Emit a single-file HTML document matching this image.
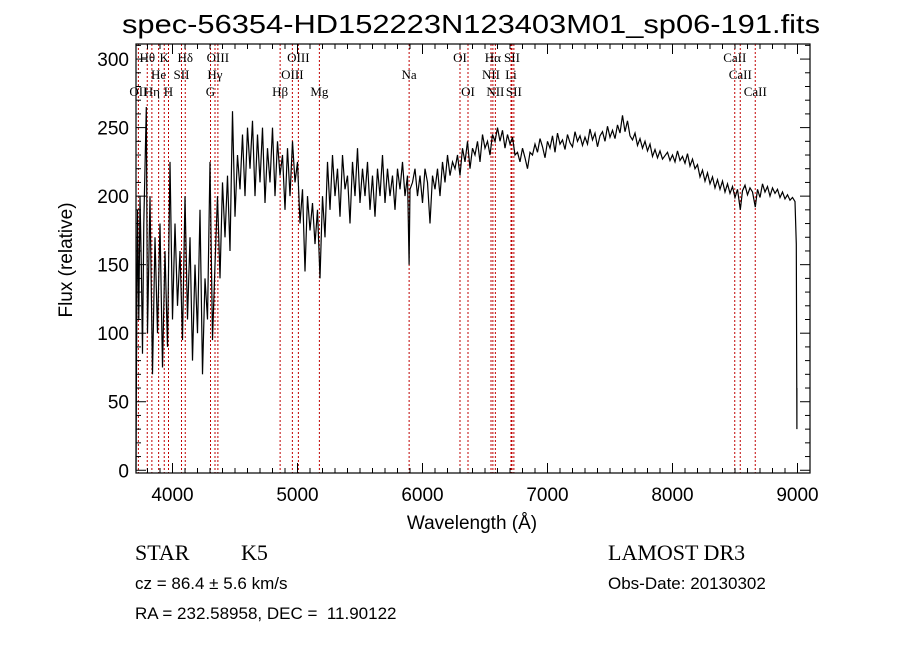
<!DOCTYPE html>
<html><head><meta charset="utf-8"><style>
html,body{margin:0;padding:0;background:#fff;}
svg{display:block;}
text{font-family:"Liberation Serif",serif;fill:#000;}
.sans{font-family:"Liberation Sans",sans-serif;}
</style></head><body>
<svg id="chart" width="900" height="649" viewBox="0 0 900 649" xmlns="http://www.w3.org/2000/svg">
<rect x="0" y="0" width="900" height="649" fill="#fff"/>
<text x="471" y="33" font-size="26" text-anchor="middle" textLength="698" lengthAdjust="spacingAndGlyphs" class="sans">spec-56354-HD152223N123403M01_sp06-191.fits</text>
<g id="lines"></g>
<g id="linelabels"></g>
<path id="spec" fill="none" stroke="#000" stroke-width="1.2" stroke-linejoin="miter"/>
<rect x="136" y="44" width="674" height="429" fill="none" stroke="#000" stroke-width="1.2"/>
<g id="ticks"></g>
<g id="xlabels"></g>
<g id="ylabels"></g>
<text x="472" y="529" font-size="19" text-anchor="middle" class="sans">Wavelength (Å)</text>
<text transform="translate(72,260) rotate(-90)" font-size="19" text-anchor="middle" class="sans">Flux (relative)</text>
<text x="135" y="560" font-size="22">STAR</text>
<text x="241" y="560" font-size="22">K5</text>
<text x="608" y="560" font-size="22">LAMOST DR3</text>
<text x="135" y="589" font-size="17" class="sans">cz = 86.4 ± 5.6 km/s</text>
<text x="608" y="589" font-size="17" class="sans">Obs-Date: 20130302</text>
<text x="135" y="619" font-size="17" class="sans" xml:space="preserve">RA = 232.58958, DEC =  11.90122</text>
</svg>
<script>
const wave=[3708,3712,3720,3730,3740,3750,3760,3770,3790,3800,3820,3840,3860,3880,3900,3920,3940,3960,3980,4000,4020,4040,4060,4080,4100,4120,4140,4160,4180,4200,4220,4240,4260,4280,4300,4320,4340,4360,4380,4400,4420,4440,4460,4480,4500,4520,4540,4560,4580,4600,4620,4640,4660,4680,4700,4720,4740,4760,4780,4800,4820,4840,4860,4880,4900,4920,4940,4960,4980,5000,5020,5040,5060,5080,5100,5120,5140,5160,5180,5200,5220,5240,5260,5280,5300,5320,5340,5360,5380,5400,5420,5440,5460,5480,5500,5520,5540,5560,5580,5600,5620,5640,5660,5680,5700,5720,5740,5760,5780,5800,5820,5840,5860,5880,5893,5900,5920,5940,5960,5980,6000,6020,6040,6060,6080,6100,6120,6140,6160,6180,6200,6220,6240,6260,6280,6300,6320,6340,6360,6380,6400,6420,6440,6460,6480,6500,6520,6540,6560,6580,6600,6620,6640,6660,6680,6700,6720,6740,6760,6780,6800,6820,6840,6860,6880,
6900,6920,6940,6960,6980,7000,7020,7040,7060,7080,7100,7120,7140,7160,7180,7200,7220,7240,7260,7280,7300,7320,7340,7360,7380,7400,7420,7440,7460,7480,7500,7520,7540,7560,7580,7600,7620,7640,7660,7680,7700,7720,7740,7760,7780,7800,7820,7840,7860,7880,7900,7920,7960,7980,8000,8020,8040,8060,8080,8100,8120,8140,8160,8180,8200,8220,8240,8260,8280,8300,8320,8340,8360,8380,8400,8420,8440,8460,8480,8500,8520,8542,8560,8580,8600,8620,8640,8662,8680,8700,8720,8740,8760,8780,8800,8820,8840,8860,8880,8900,8920,8940,8960,8980,8990,8995];
const flux=[0,80,190,110,200,150,85,180,265,100,200,70,170,100,180,75,160,90,225,110,180,120,160,95,200,110,170,80,150,100,190,70,140,110,225,95,150,200,140,210,170,215,160,262,185,230,205,245,200,250,220,255,200,245,210,250,195,235,210,250,200,240,215,230,190,235,200,240,210,225,180,205,145,200,175,195,165,190,140,200,170,225,190,230,200,220,185,230,205,215,180,225,200,235,195,220,200,225,190,215,185,220,200,230,195,220,200,215,190,220,205,225,200,215,150,205,210,220,200,215,195,220,210,180,215,205,220,200,225,210,230,215,225,220,230,215,235,225,240,220,235,230,240,225,245,235,240,230,245,240,250,240,248,235,245,238,243,230,232,225,235,228,220,232,230,
238,232,242,236,228,240,235,244,232,246,238,241,234,245,239,236,247,240,244,237,243,238,249,241,246,236,244,247,240,251,243,248,242,252,246,259,247,255,244,241,246,237,242,235,240,233,238,229,234,228,233,227,232,226,230,225,233,226,229,224,231,222,227,220,223,214,219,211,217,209,214,206,212,205,211,203,209,202,207,199,205,190,204,208,201,206,203,192,205,199,209,203,207,200,206,202,205,199,203,198,201,197,199,196,165,30];
const lineWaves=[3727,3798,3835,3889,3934,3968,4072,4102,4304,4340,4363,4861,4959,5007,5175,5893,6300,6364,6548,6563,6583,6708,6716,6731,8498,8542,8662];
const labelTexts=["OII","Hθ","Hη","He","K","H","SII","Hδ","G","Hγ","OIII","Hβ","OIII","OIII","Mg","Na","OI","OI","NII","Hα","NII","Li","SII","SII","CaII","CaII","CaII"];
const labelRows=[2,0,2,1,0,2,1,0,2,1,0,2,1,0,2,1,0,2,1,0,2,1,0,2,0,1,2];
const xTickVals=[4000,5000,6000,7000,8000,9000];
const yTickVals=[0,50,100,150,200,250,300];

const X0=136,X1=810,Y0=44,Y1=473;
const xMin=3708,xMax=9100,yMin=-2,yMax=311;
function xs(v){return X0+(v-xMin)/(xMax-xMin)*(X1-X0);}
function ys(v){return Y1-(v-yMin)/(yMax-yMin)*(Y1-Y0);}
const NS="http://www.w3.org/2000/svg";
function mk(tag,attrs,parent){const e=document.createElementNS(NS,tag);for(const k in attrs)e.setAttribute(k,attrs[k]);parent.appendChild(e);return e;}

let d="";
for(let i=0;i<wave.length;i++){d+=(i?"L":"M")+xs(wave[i]).toFixed(1)+" "+ys(Math.max(yMin,flux[i])).toFixed(1);}
d+="L"+xs(8995).toFixed(1)+" "+ys(60).toFixed(1);
document.getElementById('spec').setAttribute('d',d);

const gl=document.getElementById('lines'),glab=document.getElementById('linelabels');
const rowY=[62,79,96];
for(let i=0;i<lineWaves.length;i++){
  const x=xs(lineWaves[i]);
  const l=mk('line',{x1:x,x2:x,y1:Y0,y2:Y1,stroke:'#c00000','stroke-width':1,'stroke-dasharray':'2,2'},gl);
  
  
  const t=mk('text',{x:x,y:rowY[labelRows[i]],'font-size':13,'text-anchor':'middle'},glab);
  t.textContent=labelTexts[i];
  
  
}

const gt=document.getElementById('ticks');
for(let w=3800;w<=9100;w+=100){
  const x=xs(w);const major=(w%1000===0);const len=major?10:5;
  const a=mk('line',{x1:x,x2:x,y1:Y1,y2:Y1-len,stroke:'#000','stroke-width':1},gt);
  
  
  const b=mk('line',{x1:x,x2:x,y1:Y0,y2:Y0+len,stroke:'#000','stroke-width':1},gt);
  
  
}
for(let v=0;v<=310;v+=10){
  const y=ys(v);const major=(v%50===0);const len=major?10:5;
  const a=mk('line',{x1:X0,x2:X0+len,y1:y,y2:y,stroke:'#000','stroke-width':1},gt);
  
  
  const b=mk('line',{x1:X1,x2:X1-len,y1:y,y2:y,stroke:'#000','stroke-width':1},gt);
  
  
}
const gx=document.getElementById('xlabels');
xTickVals.forEach(v=>{
  const t=mk('text',{x:xs(v),y:501,'font-size':19,'text-anchor':'middle',class:'sans'},gx);
  t.textContent=v;
  
  
});
const gy=document.getElementById('ylabels');
yTickVals.forEach(v=>{
  const t=mk('text',{x:129,y:ys(v)+7,'font-size':19,'text-anchor':'end',class:'sans'},gy);
  t.textContent=v;
  
  
});
</script>
</body></html>
